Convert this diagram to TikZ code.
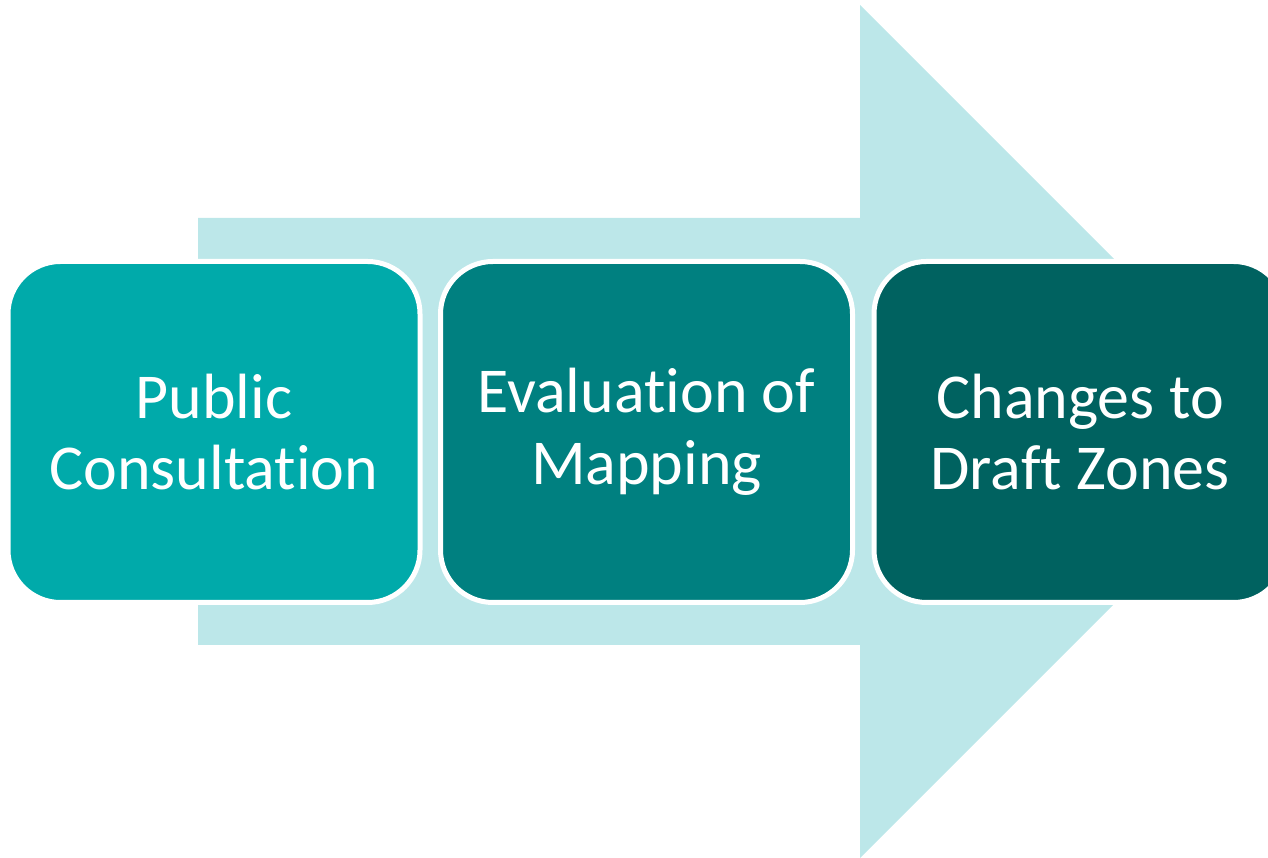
\documentclass[tikz,border=0pt]{standalone}
\usepackage{fontspec}
\setmainfont[Ligatures=NoCommon]{Carlito}
\usetikzlibrary{positioning}

\definecolor{arrowbg}{RGB}{188,231,233}
\definecolor{teal1}{RGB}{0,170,170}
\definecolor{teal2}{RGB}{0,128,128}
\definecolor{teal3}{RGB}{0,98,96}

\begin{document}
\begin{tikzpicture}
[font=\fontsize{18.2}{20.4}\selectfont, line width=0.05cm,
stage1/.style={rectangle, rounded corners=0.525cm, draw=white, fill=teal1, text=white, align=center, minimum width=4.12cm, minimum height=3.41cm, inner sep=0pt},
stage2/.style={rectangle, rounded corners=0.525cm, draw=white, fill=teal2, text=white, align=center, minimum width=4.12cm, minimum height=3.41cm, inner sep=0pt},
stage3/.style={rectangle, rounded corners=0.525cm, draw=white, fill=teal3, text=white, align=center, minimum width=4.12cm, minimum height=3.41cm, inner sep=0pt}]

\useasboundingbox (0,0) rectangle (12.68,8.58);
\clip (0,0) rectangle (12.68,8.58);

% big arrow behind the stages
\fill[arrowbg] (1.98,6.40) -- (8.60,6.40) -- (8.60,8.53) -- (12.865,4.265)
  -- (8.60,0.00) -- (8.60,2.13) -- (1.98,2.13) -- cycle;

\node[stage1] (consult) at (2.14,4.26) {Public\\Consultation};
\node[stage2] (evalmap) at (6.465,4.26) {Evaluation of\\Mapping};
\node[stage3] (changes) at (10.80,4.26) {Changes to\\Draft Zones};

\end{tikzpicture}
\end{document}
